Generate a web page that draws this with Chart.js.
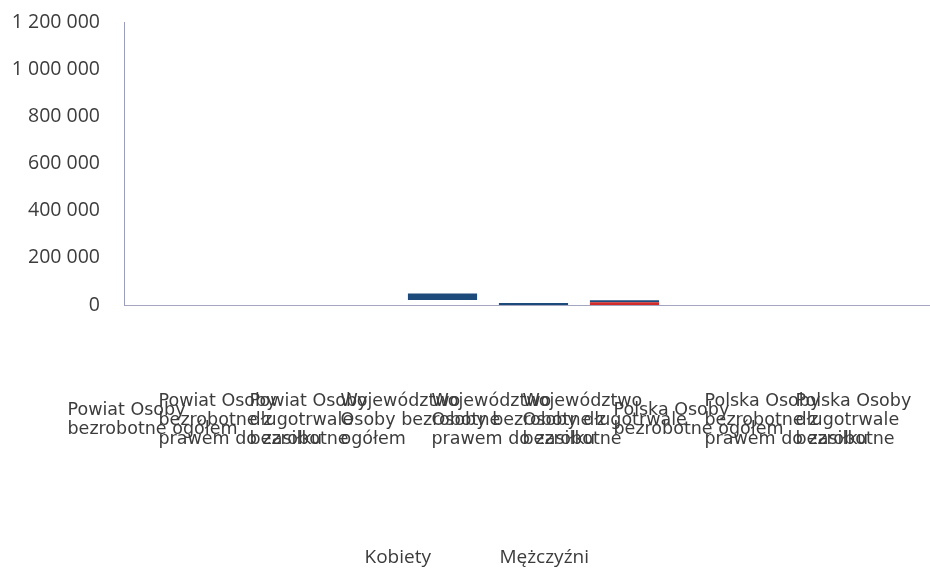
<!DOCTYPE html>
<html>
<head>
<meta charset="utf-8">
<script src="https://cdn.jsdelivr.net/npm/chart.js@4"></script>
<style>
  html, body { margin: 0; padding: 0; background: #fff; overflow: hidden; }
  #wrap { width: 945px; height: 570px; }
</style>
</head>
<body>
<div id="wrap"><canvas id="chart" width="945" height="570"></canvas></div>
<script>
// Kategorie (etykiety w kilku liniach)
const categories = [
    ['Powiat Osoby', 'bezrobotne ogółem'],
    ['Powiat Osoby', 'bezrobotne z', 'prawem do zasiłku'],
    ['Powiat Osoby', 'długotrwale', 'bezrobotne'],
    ['Województwo', 'Osoby bezrobotne', 'ogółem'],
    ['Województwo', 'Osoby bezrobotne z', 'prawem do zasiłku'],
    ['Województwo', 'Osoby długotrwale', 'bezrobotne'],
    ['Polska Osoby', 'bezrobotne ogółem'],
    ['Polska Osoby', 'bezrobotne z', 'prawem do zasiłku'],
    ['Polska Osoby', 'długotrwale', 'bezrobotne']
];
const kobiety = [0, 0, 0, 21000, 0, 12000, 0, 0, 0];
const mezczyzni = [0, 0, 0, 28000, 9000, 8000, 0, 0, 0];
const yTicks = [0, 200000, 400000, 600000, 800000, 1000000, 1200000];

const kobietyColors = ['#d02c2c', '#d02c2c', '#d02c2c', 'rgba(0,0,0,0)', '#d02c2c', '#d02c2c', '#d02c2c', '#d02c2c', '#d02c2c'];

function formatNumber(v) {
    return String(v).replace(/\B(?=(\d{3})+(?!\d))/g, ' ');
}

const ctx = document.getElementById('chart').getContext('2d');
new Chart(ctx, {
    type: 'bar',
    data: {
        labels: categories,
        datasets: [
            { label: 'Kobiety', data: kobiety, backgroundColor: kobietyColors },
            { label: 'Mężczyźni', data: mezczyzni, backgroundColor: '#1c4b7b' }
        ]
    },
    options: {
        responsive: false,
        animation: false,
        events: [],
        barPercentage: 0.76,
        categoryPercentage: 1,
        layout: { padding: { top: 22, left: 0, right: 2, bottom: -7.5 } },
        scales: {
            x: {
                stacked: true,
                grid: { display: false },
                border: { display: true, color: '#a4a6c0', width: 1 },
                ticks: {
                    autoSkip: false,
                    maxRotation: 0,
                    minRotation: 0,
                    align: 'start',
                    crossAlign: 'center',
                    labelOffset: -102,
                    padding: 88,
                    color: '#3c3c3c',
                    font: { family: 'DejaVu Sans', size: 17.5, lineHeight: 1.1 }
                },
                afterFit: (axis) => {
                    axis.height = 185.5;
                    axis.paddingLeft = 0;
                    axis.paddingRight = 0;
                }
            },
            y: {
                stacked: true,
                min: 0,
                max: 1200000,
                grid: { display: false },
                border: { display: true, color: '#9c9cc0', width: 1 },
                afterBuildTicks: (axis) => {
                    axis.ticks = yTicks.map(v => ({ value: v }));
                },
                ticks: {
                    padding: 16,
                    color: '#3c3c3c',
                    font: { family: 'Open Sans', size: 19.5 },
                    callback: (v) => formatNumber(v)
                },
                afterFit: (axis) => {
                    axis.width = 124;
                    axis.paddingTop = 0;
                    axis.paddingBottom = 0;
                }
            }
        },
        plugins: {
            tooltip: { enabled: false },
            legend: {
                position: 'bottom',
                labels: {
                    boxWidth: 1,
                    padding: 58,
                    color: '#3c3c3c',
                    font: { family: 'Open Sans', size: 19 },
                    generateLabels: (chart) => Chart.defaults.plugins.legend.labels.generateLabels(chart).map(l => ({
                        ...l, fillStyle: 'rgba(0,0,0,0)', strokeStyle: 'rgba(0,0,0,0)', lineWidth: 0
                    }))
                }
            }
        }
    }
});
</script>
</body>
</html>
